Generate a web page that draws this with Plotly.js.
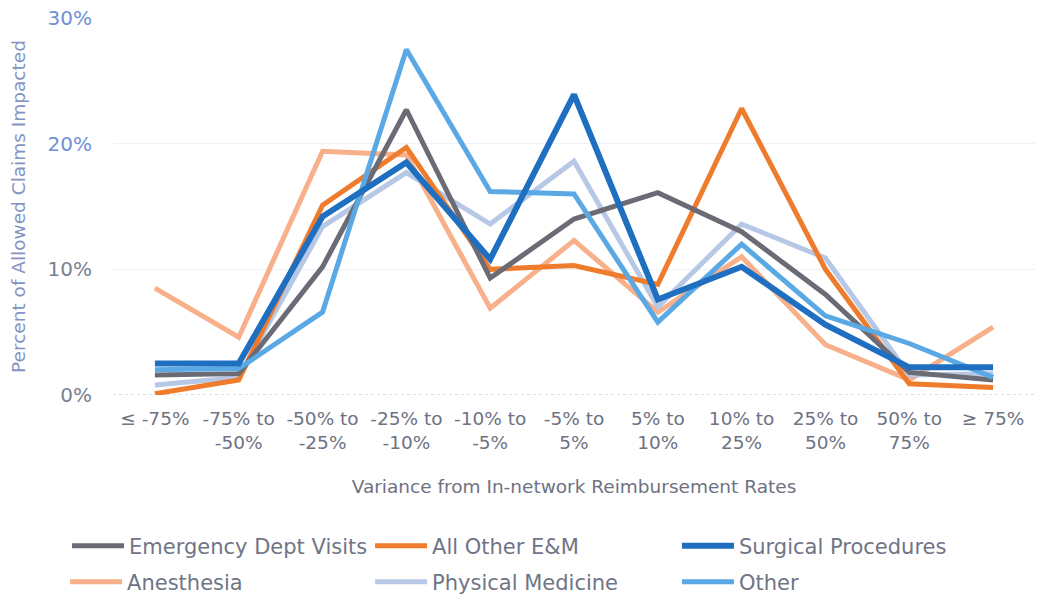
<!DOCTYPE html>
<html>
<head>
<meta charset="utf-8">
<script src="https://cdn.plot.ly/plotly-3.0.1.min.js"></script>
<style>html,body{margin:0;padding:0;background:#fff;}#chart{width:1041px;height:600px;}</style>
</head>
<body>
<div id="chart"></div>
<script>
// Categories (variance bins)
const categories = ["≤ -75%", "-75% to<br>-50%", "-50% to<br>-25%", "-25% to<br>-10%", "-10% to<br>-5%", "-5% to<br>5%", "5% to<br>10%", "10% to<br>25%", "25% to<br>50%", "50% to<br>75%", "≥ 75%"];

// Series values (percent of allowed claims impacted)
const emergencyDept   = [1.6, 1.7, 10.2, 22.7, 9.3, 14.0, 16.1, 13.0, 8.0, 1.8, 1.2];
const allOtherEM      = [0.1, 1.2, 15.1, 19.7, 10.0, 10.3, 8.8, 22.8, 10.0, 0.9, 0.6];
const surgical        = [2.5, 2.5, 14.2, 18.5, 10.8, 23.9, 7.6, 10.2, 5.6, 2.2, 2.2];
const anesthesia      = [8.5, 4.6, 19.4, 19.1, 6.9, 12.3, 6.6, 11.0, 4.0, 1.2, 5.4];
const physicalMed     = [0.8, 1.4, 13.4, 17.7, 13.6, 18.6, 7.0, 13.6, 10.9, 1.6, 1.7];
const other           = [2.0, 2.1, 6.6, 27.5, 16.2, 16.0, 5.8, 12.0, 6.3, 4.1, 1.4];

const seriesNames = ["Emergency Dept Visits", "All Other E&M", "Surgical Procedures", "Anesthesia", "Physical Medicine", "Other"];

// Y axis ticks
const yTickVals = [0, 10, 20, 30];
const yTickText = ['<span style="color:#7a8090">0%</span>', '<span style="color:#7a8090">10%</span>', '<span style="color:#6f8fd8">20%</span>', '<span style="color:#6f8fd8">30%</span>'];

const FONT = "DejaVu Sans, Liberation Sans, Arial, sans-serif";

const styles = [
  {color: "#6b6b76", width: 5,   legend: "legend",  lx: 0.0644, ly: 0.090},
  {color: "#ef7b2c", width: 5,   legend: "legend2", lx: 0.3555, ly: 0.090},
  {color: "#1f6fc0", width: 6,   legend: "legend3", lx: 0.6503, ly: 0.090},
  {color: "#f8b08a", width: 5,   legend: "legend4", lx: 0.0625, ly: 0.030},
  {color: "#b6c8e6", width: 5,   legend: "legend5", lx: 0.3555, ly: 0.030},
  {color: "#5aa9e4", width: 5,   legend: "legend6", lx: 0.6503, ly: 0.030}
];
const values = [emergencyDept, allOtherEM, surgical, anesthesia, physicalMed, other];

// draw order: lighter behind
const order = [3, 4, 1, 0, 5, 2];
const traces = order.map(i => ({
  type: "scatter",
  mode: "lines",
  x: categories,
  y: values[i],
  name: seriesNames[i],
  legend: styles[i].legend,
  line: {color: styles[i].color, width: styles[i].width},
  hoverinfo: "x+y+name"
}));

const layout = {
  width: 1041,
  height: 600,
  margin: {l: 113, r: 6, t: 18, b: 205},
  paper_bgcolor: "#ffffff",
  plot_bgcolor: "#ffffff",
  showlegend: true,
  font: {family: FONT, color: "#707484"},
  xaxis: {
    type: "category",
    range: [-0.5, 10.5],
    automargin: false,
    tickfont: {size: 18.5, color: "#6e7282"},
    ticklabelstandoff: 10,
    showgrid: false,
    zeroline: false,
    showline: false,
    ticks: "",
    title: {text: "Variance from In-network Reimbursement Rates", font: {size: 18.5, color: "#6e7282"}, standoff: 28},
    fixedrange: true
  },
  yaxis: {
    range: [0, 30],
    automargin: false,
    tickvals: yTickVals,
    ticktext: yTickText,
    tickfont: {size: 20},
    ticklabelstandoff: 20,
    showgrid: true,
    gridcolor: "#edf1f8",
    gridwidth: 1,
    zeroline: false,
    ticks: "",
    title: {text: "Percent of Allowed Claims Impacted", font: {size: 18.5, color: "#8494c0"}, standoff: 17},
    fixedrange: true
  },
  shapes: [{
    type: "line", xref: "paper", yref: "y", x0: 0, x1: 1, y0: 0, y1: 0,
    line: {color: "#a9c2e6", width: 1.2, dash: "dot"}, layer: "below"
  }]
};

styles.forEach(s => {
  layout[s.legend] = {
    orientation: "h",
    xref: "container", yref: "container",
    x: s.lx, xanchor: "left",
    y: s.ly, yanchor: "middle",
    font: {family: FONT, size: 21, color: "#6f7585"},
    itemwidth: 52,
    bgcolor: "rgba(0,0,0,0)"
  };
});

Plotly.newPlot("chart", traces, layout, {displayModeBar: false, staticPlot: true});
</script>
</body>
</html>
